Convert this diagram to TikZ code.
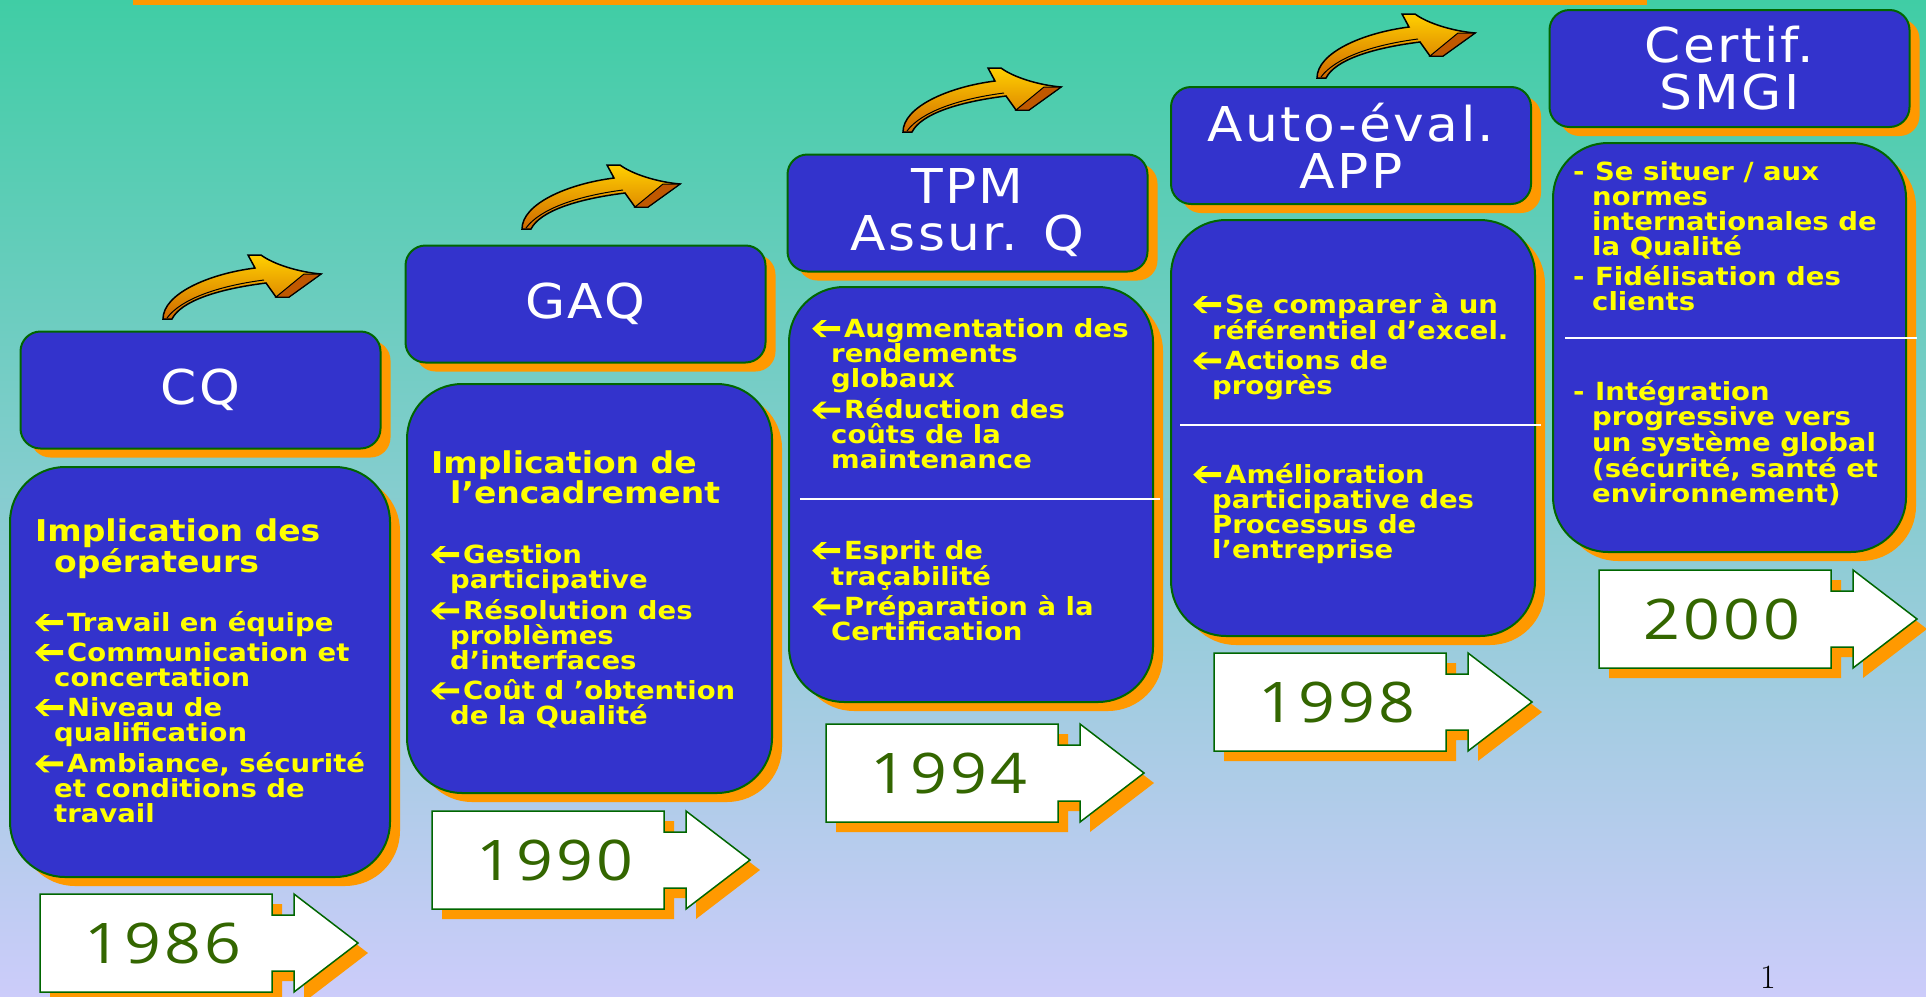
\documentclass[tikz,border=0pt]{standalone}
\usepackage{fontspec}
\usetikzlibrary{shadows}

\newfontfamily\titlefont[FakeStretch=1.08,LetterSpace=5]{DejaVu Sans}
\newfontfamily\bodyfont[FakeStretch=1.1]{DejaVu Sans}
\newfontfamily\yearfont[FakeStretch=1.15,LetterSpace=6]{Open Sans}

\definecolor{boxblue}{HTML}{3333CC}
\definecolor{boxline}{HTML}{006600}
\definecolor{shadoworange}{HTML}{FF9900}
\definecolor{textyellow}{HTML}{FFFF00}
\definecolor{yeargreen}{HTML}{336600}
\definecolor{bgtop}{HTML}{40CDA5}
\definecolor{bgmid}{HTML}{98C8D8}
\definecolor{bgbot}{HTML}{CCCCFA}
\definecolor{arrowtop}{HTML}{FFD000}
\definecolor{arrowbot}{HTML}{D06800}
\definecolor{arrowdark}{HTML}{C05800}

% bullet: bold left arrow
\newcommand{\itm}{\makebox[32pt][l]{\tikz[x=1pt,y=1pt,baseline=0pt]
  \fill[textyellow] (0,8.5) -- (9,17) -- (14.5,17) -- (7.5,11) -- (28,11) -- (28,6) -- (7.5,6)
    -- (14.5,0) -- (9,0) -- cycle;}}
\newcommand{\dsh}{\makebox[22pt][l]{-}}
\newcommand{\hind}{\hspace*{19pt}}

\tikzset{bendarrow/.pic={
  \path[draw=black, line width=1.5pt, top color=arrowtop, bottom color=arrowbot]
    (0,0) .. controls (0,-25) and (45,-45) .. (92,-51) -- (85,-64) -- (98,-64)
    .. controls (110,-55) and (135,-47) .. (158,-45) -- (126,-22) -- (113,-22)
    -- (103,-36) .. controls (55,-30) and (18,-18) .. (9,0) -- cycle;
  \path[draw=black, line width=1pt, fill=arrowdark] (141,-45) -- (158,-45) -- (126,-22) -- (113,-22) -- cycle;
  \draw[line width=1pt] (4,-1) .. controls (18,-20) and (55,-33) .. (101,-39);
}}

\begin{document}
\begin{tikzpicture}[x=1pt, y=-1pt]
  \tikzstyle{nodeT}=[draw=boxline, line width=2pt, fill=boxblue, rounded corners=20pt,
    minimum width=360pt, minimum height=117pt, align=center, text=white,
    font=\titlefont\fontsize{48}{47}\selectfont,
    drop shadow={shadow xshift=10pt, shadow yshift=-9pt, fill=shadoworange, opacity=1}]
  \tikzstyle{nodeC}=[draw=boxline, line width=2pt, fill=boxblue, rounded corners=55pt,
    drop shadow={shadow xshift=10pt, shadow yshift=-9pt, fill=shadoworange, opacity=1}]
  \tikzstyle{textH}=[anchor=north west, inner sep=0pt, align=left, text=textyellow,
    font=\bodyfont\bfseries\fontsize{30}{29}\selectfont]
  \tikzstyle{textI}=[anchor=north west, inner sep=0pt, align=left, text=textyellow,
    font=\bodyfont\bfseries\fontsize{25}{25}\selectfont]
  \tikzstyle{nodeY}=[inner sep=0pt, text=yeargreen, font=\yearfont\fontsize{56}{56}\selectfont]
  \tikzstyle{yeararrow}=[fill=white, draw=boxline, line width=1.5pt,
    drop shadow={shadow xshift=10pt, shadow yshift=-10pt, fill=shadoworange, opacity=1}]
  \tikzstyle{sepline}=[draw=white, line width=2.5pt]

  \useasboundingbox (0,0) rectangle (1926,996);
  \clip (0,0) rectangle (1926,996);

  % background
  \shade[top color=bgtop, middle color=bgmid, bottom color=bgbot] (0,0) rectangle (1926,996);
  \fill[shadoworange] (133,0) rectangle (1647,5);

  % curved arrows between the steps
  \pic at (163,319) {bendarrow};
  \pic at (522,229) {bendarrow};
  \pic at (903,132) {bendarrow};
  \pic at (1317,78) {bendarrow};

  % content boxes
  \node[nodeC, minimum width=380pt, minimum height=410pt] (c_1) at (200,672) {};
  \node[nodeC, minimum width=365pt, minimum height=409pt] (c_2) at (589.5,588.5) {};
  \node[nodeC, minimum width=364pt, minimum height=415pt] (c_3) at (971,494.5) {};
  \node[nodeC, minimum width=364pt, minimum height=416pt] (c_4) at (1353,428) {};
  \node[nodeC, minimum width=353pt, minimum height=409pt] (c_5) at (1729.5,347.5) {};

  % title boxes
  \node[nodeT] (t_1) at (200.5,390) {CQ};
  \node[nodeT] (t_2) at (585.5,304) {GAQ};
  \node[nodeT] (t_3) at (967.5,213) {TPM\\Assur. Q};
  \node[nodeT] (t_4) at (1351,145.5) {Auto-éval.\\APP};
  \node[nodeT] (t_5) at (1729.5,68.5) {Certif.\\SMGI};

  % separators
  \draw[sepline] (800,499) -- (1160,499);
  \draw[sepline] (1180,425) -- (1541,425);
  \draw[sepline] (1565,338) -- (1917,338);

  % texts
  \node[textH] (h_1) at (35,517) {\rule{0pt}{24pt}Implication des\\\hind opérateurs};
  \node[textI] (i_1) at (35,610) {\rule{0pt}{21pt}\itm Travail en équipe\\[5pt]
    \itm Communication et\\\hind concertation\\[5pt]
    \itm Niveau de\\\hind qualification\\[5pt]
    \itm Ambiance, sécurité\\\hind et conditions de\\\hind travail};
  \node[textH] (h_2) at (431,449) {\rule{0pt}{24pt}Implication de\\\hind l’encadrement};
  \node[textI] (i_2) at (431,542) {\rule{0pt}{21pt}\itm Gestion\\\hind participative\\[5pt]
    \itm Résolution des\\\hind problèmes\\\hind d’interfaces\\[5pt]
    \itm Coût d ’obtention\\\hind de la Qualité};
  \node[textI] (i_3a) at (812,316) {\rule{0pt}{21pt}\itm Augmentation des\\\hind rendements\\\hind globaux\\[5pt]
    \itm Réduction des\\\hind coûts de la\\\hind maintenance};
  \node[textI] (i_3b) at (812,538) {\rule{0pt}{21pt}\itm Esprit de\\\hind traçabilité\\[5pt]
    \itm Préparation à la\\\hind Certification};
  \node[textI] (i_4a) at (1193,292) {\rule{0pt}{21pt}\itm Se comparer à un\\\hind référentiel d’excel.\\[5pt]
    \itm Actions de\\\hind progrès};
  \node[textI] (i_4b) at (1193,462) {\rule{0pt}{21pt}\itm Amélioration\\\hind participative des\\\hind Processus de\\\hind l’entreprise};
  \node[textI] (i_5a) at (1573,159) {\rule{0pt}{21pt}\dsh Se situer / aux\\\hind normes\\\hind internationales de\\\hind la Qualité\\[5pt]
    \dsh Fidélisation des\\\hind clients};
  \node[textI] (i_5b) at (1573,379) {\rule{0pt}{21pt}\dsh Intégration\\\hind progressive vers\\\hind un système global\\\hind (sécurité, santé et\\\hind environnement)};

  % year arrows
  \foreach \x/\y/\yr/\nm in {40/894/1986/y_1, 432/811/1990/y_2, 826/724/1994/y_3,
      1214/653/1998/y_4, 1599/570/2000/y_5} {
    \path[yeararrow] (\x,\y) -- ++(232,0) -- ++(0,21) -- ++(22,0) -- ++(0,-21)
      -- ++(64,49) -- ++(-64,49) -- ++(0,-21) -- ++(-22,0) -- ++(0,21) -- ++(-232,0) -- cycle;
    \node[nodeY] (\nm) at (\x+123,\y+49) {\yr};
  }

  \node[anchor=north, inner sep=0pt, font=\fontsize{34}{34}\selectfont] (pagenum) at (1768,966) {1};
\end{tikzpicture}
\end{document}
